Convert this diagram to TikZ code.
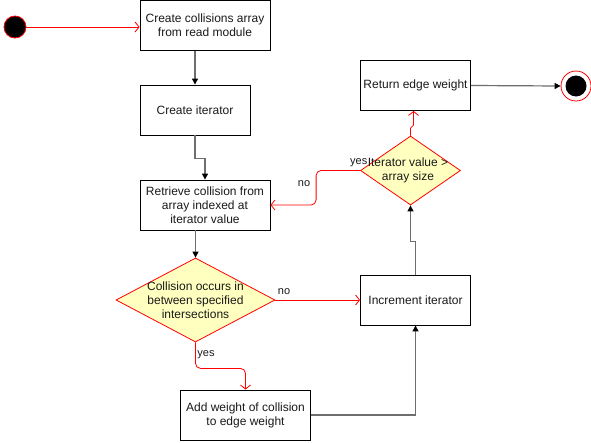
\documentclass[tikz,border=0pt]{standalone}
\usepackage{fontspec}
\setmainfont{Liberation Sans}
\usetikzlibrary{arrows.meta,shapes.geometric,calc}
\definecolor{flowred}{HTML}{FF0000}
\definecolor{decfill}{HTML}{FFFFC0}
\definecolor{txt}{HTML}{1A1A1A}
\definecolor{edgegray}{HTML}{6E6E6E}
\begin{document}
\begin{tikzpicture}[x=1pt,y=-1pt,
  every node/.style={font=\fontsize{12}{14}\selectfont, text=txt},
  procbox/.style={draw=black, fill=white, line width=0.9pt, rectangle, align=center, inner sep=1pt},
  decision/.style={draw=flowred, fill=decfill, line width=0.8pt, diamond, inner sep=0pt},
  blackflow/.style={draw=edgegray, line width=1.2pt, -{Triangle[length=6pt,width=6pt,color=black]}},
  redflow/.style={draw=flowred, line width=0.8pt, rounded corners=5pt, -{Straight Barb[length=4pt,width=10pt]}},
  lbl/.style={inner sep=0pt, font=\fontsize{11}{13}\selectfont}
]
\useasboundingbox (0,0) rectangle (591,442);
\fill[white] (0,0) rectangle (591,442);

% start / end
\node[circle, fill=black, draw=flowred, line width=0.8pt, minimum size=22pt, inner sep=0pt] (start) at (15,27) {};
\node[circle, draw=flowred, line width=0.8pt, minimum size=30pt, inner sep=0pt] (finish) at (576,86) {};
\node[circle, fill=black, minimum size=21pt, inner sep=0pt] (finishin) at (finish.center) {};

% boxes
\node[procbox, minimum width=130pt, minimum height=50pt] (create) at (205,25.5) {Create collisions array\\from read module};
\node[procbox, minimum width=110pt, minimum height=50pt] (iter) at (195,110) {Create iterator};
\node[procbox, minimum width=130pt, minimum height=50pt] (retrieve) at (205,205) {Retrieve collision from\\array indexed at\\iterator value};
\node[procbox, minimum width=110pt, minimum height=50pt] (inc) at (415.5,300) {Increment iterator};
\node[procbox, minimum width=130pt, minimum height=50pt] (addw) at (245.5,415) {Add weight of collision\\to edge weight};
\node[procbox, minimum width=110pt, minimum height=50pt] (ret) at (415.5,85.5) {Return edge weight};

% decisions
\node[decision, minimum width=159pt, minimum height=84pt] (d1) at (195.5,300) {};
\node[align=center, inner sep=0pt] (d1t) at (d1.center) {Collision occurs in\\between specified\\intersections};
\node[decision, minimum width=100pt, minimum height=69pt] (d2) at (410.5,170.5) {};
\node[align=center, inner sep=0pt] (d2t) at ($(d2.center)+(-2.5,0)$) {Iterator value >\\array size};

% connectors
\draw[redflow] (start.east) -- (start.east -| create.west);
\draw[blackflow] (create.south -| iter.north) -- (iter.north);
\draw[blackflow] (iter.south) -- ++(0,23) -| (retrieve.north);
\draw[blackflow] (retrieve.south -| d1.north) -- (d1.north);
\draw[redflow] (d1.east) -- (inc.west);
\draw[redflow] (d1.south) -- ++(0,26) -| (addw.north);
\draw[blackflow] (addw.east) -| (inc.south);
\draw[blackflow] (inc.north) -- ++(0,-33) -| (d2.south);
\draw[redflow, rounded corners=1.5pt] (d2.north) -- ++(0,-9) -| ($(ret.south)+(-2,0)$);
\draw[redflow] (d2.west) -- ++(-44,0) |- (retrieve.east);
\draw[blackflow] (ret.east) -- (finish.west);

% labels
\node[lbl] (nod1) at (284,292) {no};
\node[lbl] (yesd1) at (206,355) {yes};
\node[lbl] (nod2) at (304,184) {no};
\node[lbl, anchor=east] (yesd2) at (367.5,163) {yes};
\end{tikzpicture}
\end{document}
